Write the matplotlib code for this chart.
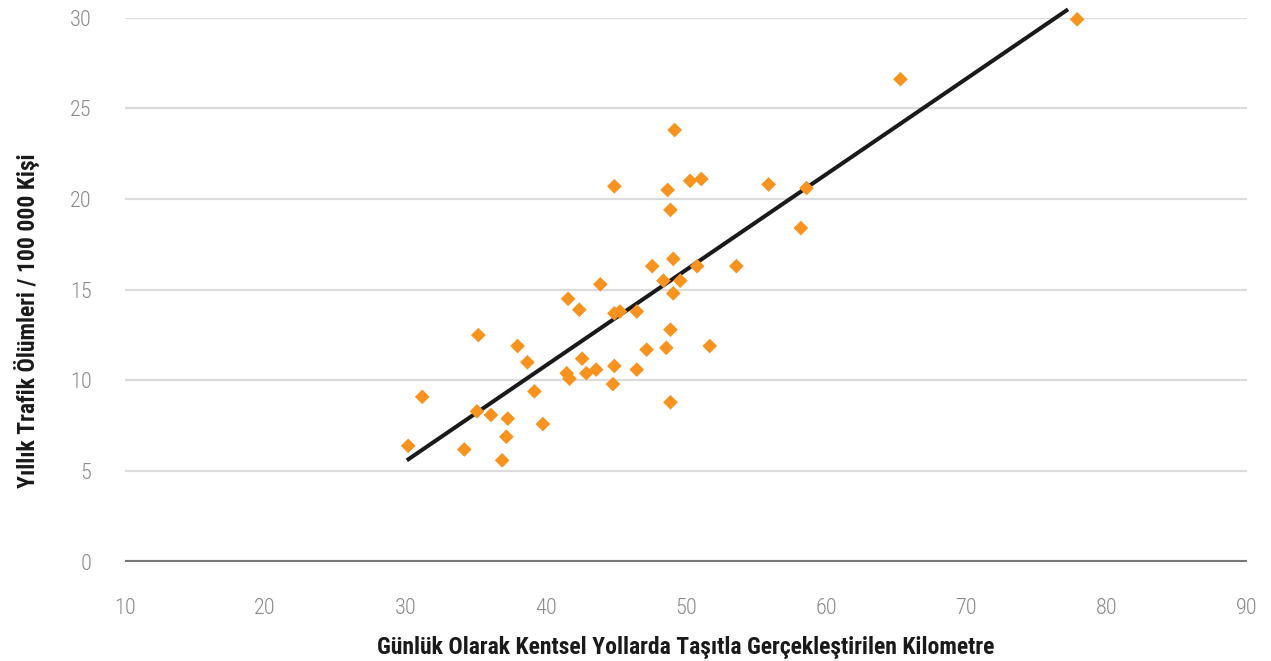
import matplotlib
matplotlib.use("Agg")
import matplotlib.pyplot as plt
from matplotlib import font_manager

# km per day by car on urban roads vs yearly traffic deaths per 100 000
km_gunluk = [77.9, 65.3, 49.2, 44.9, 48.7, 50.3, 51.1, 55.9, 58.6, 48.9,
             58.2, 49.1, 47.6, 50.8, 53.6, 48.4, 49.6, 49.1, 43.9, 41.6,
             42.4, 44.9, 45.3, 46.5, 35.2, 48.9, 38.0, 48.6, 51.7, 38.7,
             42.6, 47.2, 41.5, 41.7, 42.9, 43.6, 44.9, 46.5, 44.8, 39.2,
             31.2, 48.9, 35.1, 36.1, 37.3, 39.8, 37.2, 30.2, 34.2, 36.9]
olum = [29.9, 26.6, 23.8, 20.7, 20.5, 21.0, 21.1, 20.8, 20.6, 19.4,
        18.4, 16.7, 16.3, 16.3, 16.3, 15.5, 15.5, 14.8, 15.3, 14.5,
        13.9, 13.7, 13.8, 13.8, 12.5, 12.8, 11.9, 11.8, 11.9, 11.0,
        11.2, 11.7, 10.4, 10.1, 10.4, 10.6, 10.8, 10.6, 9.8, 9.4,
        9.1, 8.8, 8.3, 8.1, 7.9, 7.6, 6.9, 6.4, 6.2, 5.6]

trend_x = [30.1, 77.25]
trend_y = [5.6, 30.45]

xticks = [10, 20, 30, 40, 50, 60, 70, 80, 90]
yticks = [0, 5, 10, 15, 20, 25, 30]

xlabel = "Günlük Olarak Kentsel Yollarda Taşıtla Gerçekleştirilen Kilometre"
ylabel = "Yıllık Trafik Ölümleri / 100 000 Kişi"

installed = {f.name for f in font_manager.fontManager.ttflist}
font = "DejaVu Sans"
for cand in ["Roboto Condensed", "Liberation Sans Narrow", "Open Sans Condensed", "Roboto", "Liberation Sans"]:
    if cand in installed:
        font = cand
        break
plt.rcParams['font.family'] = [font, 'DejaVu Sans']

fig = plt.figure(figsize=(12.71, 6.61), dpi=100)
ax = fig.add_axes([0.0983, 0.1498, 0.8827, 0.8237])

for y in yticks[1:]:
    ax.axhline(y, color='#dcdcdc', lw=1.6, zorder=0)
ax.axhline(0, color='#777777', lw=3.0, zorder=1)

ax.plot(trend_x, trend_y, color='#1a1a1a', lw=2.9, zorder=2,
        solid_capstyle='butt', clip_on=False)
ax.scatter(km_gunluk, olum, marker='D', s=56, color='#f7931e',
           edgecolors='none', zorder=3, clip_on=False)

ax.set_xlim(10, 90)
ax.set_ylim(0, 30)
ax.set_xticks(xticks)
ax.set_yticks(yticks)
for s in ax.spines.values():
    s.set_visible(False)
ax.tick_params(axis='both', length=0, colors='#8a8a8a', labelsize=16)
for lbl in ax.get_xticklabels() + ax.get_yticklabels():
    lbl.set_fontweight('light')
ax.tick_params(axis='x', pad=26)
ax.tick_params(axis='y', pad=24)

ax.set_xlabel(xlabel, fontsize=17, fontweight='bold', color='#1a1a1a', labelpad=12)
ax.set_ylabel(ylabel, fontsize=17, fontweight='bold', color='#1a1a1a')
ax.yaxis.set_label_coords(-0.076, 0.444)

fig.savefig("out.png", dpi=100)
